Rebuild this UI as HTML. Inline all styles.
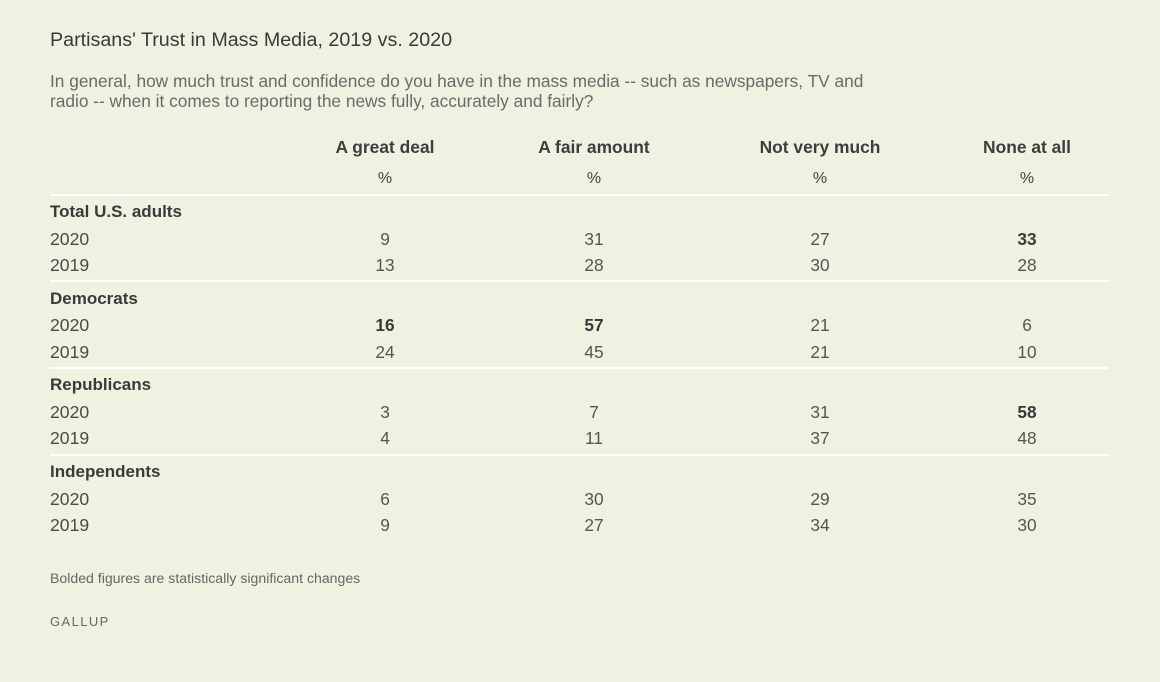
<!DOCTYPE html>
<html><head><meta charset="utf-8">
<style>
html,body{margin:0;padding:0;}
body{width:1160px;height:682px;background:#edf3e0;position:relative;overflow:hidden;font-family:"Liberation Sans",sans-serif;}
.t{position:absolute;white-space:nowrap;line-height:20px;}
.title{left:50px;top:30px;font-size:19.7px;color:#3a3a3a;}
.sub{left:50px;font-size:17.3px;color:#6a6a6a;}
.h{font-size:17.4px;font-weight:bold;color:#3d3d3d;transform:translateX(-50%);}
.pc{font-size:16px;color:#444;transform:translateX(-50%);}
.g{left:50px;font-size:17px;font-weight:bold;color:#3a3a3a;}
.y{left:50px;font-size:17.6px;color:#4a4a4a;}
.n{font-size:17.3px;color:#555;transform:translateX(-50%);}
.b{font-weight:bold;color:#3a3a3a;}
.line{position:absolute;left:50px;width:1059px;height:2px;background:#ffffff;}
.foot{left:50px;top:568px;font-size:14.1px;color:#666;}
.gal{left:50px;top:612px;font-size:13px;color:#666;letter-spacing:1.4px;}
</style></head><body>
<div class="t title">Partisans' Trust in Mass Media, 2019 vs. 2020</div>
<div class="t sub" style="top:71px">In general, how much trust and confidence do you have in the mass media -- such as newspapers, TV and</div>
<div class="t sub" style="top:91px">radio -- when it comes to reporting the news fully, accurately and fairly?</div>

<div class="t h" style="left:385px;top:137px">A great deal</div>
<div class="t h" style="left:594px;top:137px">A fair amount</div>
<div class="t h" style="left:820px;top:137px">Not very much</div>
<div class="t h" style="left:1027px;top:137px">None at all</div>
<div class="t pc" style="left:385px;top:169px">%</div>
<div class="t pc" style="left:594px;top:169px">%</div>
<div class="t pc" style="left:820px;top:169px">%</div>
<div class="t pc" style="left:1027px;top:169px">%</div>

<div class="line" style="top:194px"></div>
<div class="t g" style="top:202px">Total U.S. adults</div>
<div class="t y" style="top:229px">2020</div>
<div class="t y" style="top:255px">2019</div>
<div class="t n" style="left:385px;top:229px">9</div>
<div class="t n" style="left:594px;top:229px">31</div>
<div class="t n" style="left:820px;top:229px">27</div>
<div class="t n b" style="left:1027px;top:229px">33</div>
<div class="t n" style="left:385px;top:255px">13</div>
<div class="t n" style="left:594px;top:255px">28</div>
<div class="t n" style="left:820px;top:255px">30</div>
<div class="t n" style="left:1027px;top:255px">28</div>

<div class="line" style="top:280px"></div>
<div class="t g" style="top:289px">Democrats</div>
<div class="t y" style="top:315px">2020</div>
<div class="t y" style="top:342px">2019</div>
<div class="t n b" style="left:385px;top:315px">16</div>
<div class="t n b" style="left:594px;top:315px">57</div>
<div class="t n" style="left:820px;top:315px">21</div>
<div class="t n" style="left:1027px;top:315px">6</div>
<div class="t n" style="left:385px;top:342px">24</div>
<div class="t n" style="left:594px;top:342px">45</div>
<div class="t n" style="left:820px;top:342px">21</div>
<div class="t n" style="left:1027px;top:342px">10</div>

<div class="line" style="top:367px"></div>
<div class="t g" style="top:375px">Republicans</div>
<div class="t y" style="top:402px">2020</div>
<div class="t y" style="top:428px">2019</div>
<div class="t n" style="left:385px;top:402px">3</div>
<div class="t n" style="left:594px;top:402px">7</div>
<div class="t n" style="left:820px;top:402px">31</div>
<div class="t n b" style="left:1027px;top:402px">58</div>
<div class="t n" style="left:385px;top:428px">4</div>
<div class="t n" style="left:594px;top:428px">11</div>
<div class="t n" style="left:820px;top:428px">37</div>
<div class="t n" style="left:1027px;top:428px">48</div>

<div class="line" style="top:454px"></div>
<div class="t g" style="top:462px">Independents</div>
<div class="t y" style="top:489px">2020</div>
<div class="t y" style="top:515px">2019</div>
<div class="t n" style="left:385px;top:489px">6</div>
<div class="t n" style="left:594px;top:489px">30</div>
<div class="t n" style="left:820px;top:489px">29</div>
<div class="t n" style="left:1027px;top:489px">35</div>
<div class="t n" style="left:385px;top:515px">9</div>
<div class="t n" style="left:594px;top:515px">27</div>
<div class="t n" style="left:820px;top:515px">34</div>
<div class="t n" style="left:1027px;top:515px">30</div>

<div class="t foot">Bolded figures are statistically significant changes</div>
<div class="t gal">GALLUP</div>
</body></html>
